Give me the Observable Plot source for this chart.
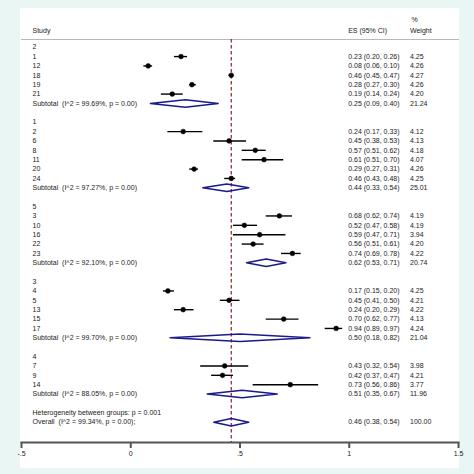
<!DOCTYPE html>
<html><head><meta charset="utf-8">
<script src="https://cdn.jsdelivr.net/npm/d3@7"></script>
<script src="https://cdn.jsdelivr.net/npm/@observablehq/plot@0.6"></script>
<style>
html,body{margin:0;padding:0;background:#e9f6f3;width:474px;height:474px;overflow:hidden}
#panel{position:absolute;left:20px;top:8px;width:439px;height:460px;background:#fff}
#chart{position:absolute;left:0;top:0}
#chart svg text{white-space:pre}
</style></head><body>
<div id="panel"></div><div id="chart"></div>
<script>
// ---- data ----
const groupNames = ["2", "1", "5", "3", "4"];
const studyGroup = ["2","2","2","2","2", "1","1","1","1","1","1", "5","5","5","5","5", "3","3","3","3","3", "4","4","4"];
const studyLabel = ["1","12","18","19","21", "2","6","8","11","20","24", "3","10","16","22","23", "4","5","13","15","17", "7","9","14"];
const studyES  = [0.23,0.08,0.46,0.28,0.19, 0.24,0.45,0.57,0.61,0.29,0.46, 0.68,0.52,0.59,0.56,0.74, 0.17,0.45,0.24,0.70,0.94, 0.43,0.42,0.73];
const studyLo  = [0.20,0.06,0.45,0.27,0.14, 0.17,0.38,0.51,0.51,0.27,0.43, 0.62,0.47,0.47,0.51,0.69, 0.15,0.41,0.20,0.62,0.89, 0.32,0.37,0.56];
const studyHi  = [0.26,0.10,0.47,0.30,0.24, 0.33,0.53,0.62,0.70,0.31,0.48, 0.74,0.58,0.71,0.61,0.78, 0.20,0.50,0.29,0.77,0.97, 0.54,0.47,0.86];
const studyW   = [4.25,4.26,4.27,4.26,4.20, 4.12,4.13,4.18,4.07,4.26,4.25, 4.19,4.19,3.94,4.20,4.22, 4.25,4.21,4.22,4.13,4.24, 3.98,4.21,3.77];
const subI2 = ["99.69","97.27","92.10","99.70","88.05"];
const subES = [0.25,0.44,0.62,0.50,0.51];
const subLo = [0.09,0.33,0.53,0.18,0.35];
const subHi = [0.40,0.54,0.71,0.82,0.67];
const subW  = [21.24,25.01,20.74,21.04,11.96];
const overallI2 = "99.34", overallES = 0.46, overallLo = 0.38, overallHi = 0.54, overallW = 100.00;
const hetP = "0.001";
const xTicks = [-0.5, 0, 0.5, 1, 1.5];

// ---- rows ----
const f2 = d3.format(".2f");
const rows = [];
let r = 0;
groupNames.forEach((g, gi) => {
  rows.push({row: r++, label: g, type: "header"});
  studyLabel.forEach((s, i) => {
    if (studyGroup[i] === g) rows.push({row: r++, label: s, type: "study", es: studyES[i], lo: studyLo[i], hi: studyHi[i], w: studyW[i]});
  });
  rows.push({row: r++, label: `Subtotal  (I^2 = ${subI2[gi]}%, p = 0.00)`, type: "sub", es: subES[gi], lo: subLo[gi], hi: subHi[gi], w: subW[gi]});
  r++;
});
rows.push({row: r++, label: `Heterogeneity between groups: p = ${hetP}`, type: "het"});
rows.push({row: r++, label: `Overall  (I^2 = ${overallI2}%, p = 0.00);`, type: "overall", es: overallES, lo: overallLo, hi: overallHi, w: overallW});

const studies = rows.filter(d => d.type === "study");
const pooled = rows.filter(d => d.type === "sub" || d.type === "overall");
const valued = rows.filter(d => d.es !== undefined);
const hh = 0.4;
const diamonds = [];
pooled.forEach((d, k) => {
  diamonds.push({k, x: d.lo, y: d.row}, {k, x: d.es, y: d.row - hh}, {k, x: d.hi, y: d.row}, {k, x: d.es, y: d.row + hh}, {k, x: d.lo, y: d.row});
});

const font = "'Liberation Sans', Arial, sans-serif";
const chart = Plot.plot({
  width: 474, height: 474,
  marginLeft: 21, marginRight: 16, marginTop: 39, marginBottom: 32,
  style: {background: "transparent", fontFamily: font, fontSize: "7px", color: "#222"},
  x: {domain: [-0.5, 1.5]},
  y: {type: "linear", domain: [0, 40], range: [46.7, 421.7], axis: null},
  marks: [
    Plot.frame({anchor: "top", stroke: "#b8b8b8", strokeWidth: 1}),
    Plot.frame({anchor: "bottom", stroke: "#555", strokeWidth: 2}),
    Plot.axisX({ticks: xTicks, tickFormat: d => String(d).replace("0.", "."), tickSize: 6, tickPadding: 3, stroke: "#555", strokeWidth: 2, fill: "#222", fontSize: 7, label: null}),
    Plot.ruleX([overallES], {stroke: "#8e1f2c", strokeWidth: 1.2, strokeDasharray: "3.5,2.5"}),
    Plot.ruleY(studies, {y: "row", x1: "lo", x2: "hi", stroke: "#000", strokeWidth: 1.4}),
    Plot.dot(studies, {x: "es", y: "row", r: 2.4, fill: "#000", stroke: "#000", strokeWidth: 0.5}),
    Plot.line(diamonds, {x: "x", y: "y", z: "k", stroke: "#1a1a8c", strokeWidth: 1.5, curve: "linear"}),
    Plot.text(rows, {y: "row", text: "label", frameAnchor: "left", dx: 11, textAnchor: "start", fill: "#222", fontSize: 7}),
    Plot.text(valued, {y: "row", text: d => `${f2(d.es)} (${f2(d.lo)}, ${f2(d.hi)})`, frameAnchor: "left", dx: 326.7, textAnchor: "start", fill: "#222", fontSize: 7}),
    Plot.text(valued, {y: "row", text: d => f2(d.w), frameAnchor: "left", dx: 388.5, textAnchor: "start", fill: "#222", fontSize: 7}),
    Plot.text(["Study"], {text: d => d, frameAnchor: "top-left", dx: 11, dy: -11, textAnchor: "start", fill: "#222", fontSize: 7}),
    Plot.text(["ES (95% CI)"], {text: d => d, frameAnchor: "top-left", dx: 326.7, dy: -11, textAnchor: "start", fill: "#222", fontSize: 7}),
    Plot.text(["Weight"], {text: d => d, frameAnchor: "top-left", dx: 388.5, dy: -11, textAnchor: "start", fill: "#222", fontSize: 7}),
    Plot.text(["%"], {text: d => d, frameAnchor: "top-left", dx: 390, dy: -22, textAnchor: "start", fill: "#222", fontSize: 7})
  ]
});
document.getElementById("chart").appendChild(chart);
</script>
</body></html>
